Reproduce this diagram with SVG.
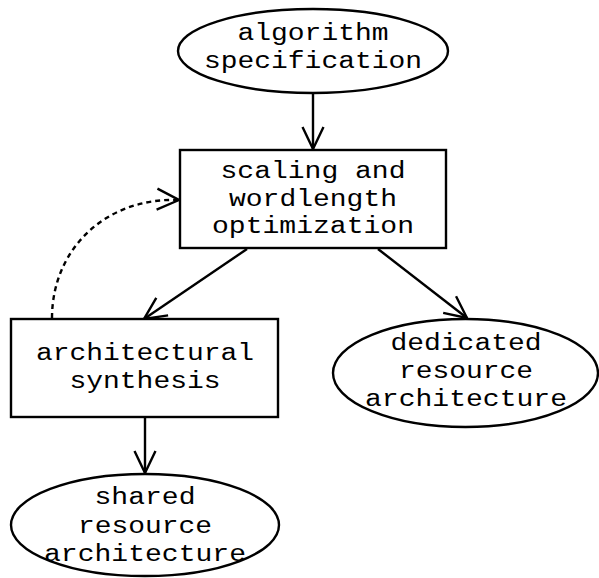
<svg xmlns="http://www.w3.org/2000/svg" width="599" height="578" viewBox="0 0 599 578">
<defs>
<marker id="arr" markerUnits="userSpaceOnUse" markerWidth="30" markerHeight="30" viewBox="-25 -15 30 30" refX="0" refY="0" orient="auto">
<path d="M-22,-10.5 L0,0 L-22,10.5" fill="none" stroke="#000" stroke-width="2.4"/>
</marker>
<style>
.n{fill:#fff;stroke:#000;stroke-width:2.4}
.t{font-family:"Liberation Mono","Courier New",monospace;font-size:23px;fill:#000;text-anchor:middle}
.e{fill:none;stroke:#000;stroke-width:2.4}
.d{fill:none;stroke:#000;stroke-width:2.4;stroke-dasharray:5,4}
</style>
</defs>
<g id="connectors">
<line class="e" x1="313" y1="93" x2="313" y2="149" marker-end="url(#arr)"/>
<line class="e" x1="247" y1="249" x2="144" y2="319" marker-end="url(#arr)"/>
<line class="e" x1="378" y1="249" x2="467" y2="318" marker-end="url(#arr)"/>
<line class="e" x1="145" y1="417" x2="145" y2="473" marker-end="url(#arr)"/>
<path class="d" d="M52,318 C52,250 105,197 179,200" marker-end="url(#arr)"/>
</g>
<g id="algorithm-specification">
<ellipse class="n" cx="313" cy="51" rx="135" ry="42"/>
<text class="t" x="313" y="40" textLength="151" lengthAdjust="spacingAndGlyphs">algorithm</text>
<text class="t" x="313" y="68" textLength="218" lengthAdjust="spacingAndGlyphs">specification</text>
</g>
<g id="scaling-wordlength">
<rect class="n" x="180" y="150" width="266" height="98"/>
<text class="t" x="313" y="178" textLength="185" lengthAdjust="spacingAndGlyphs">scaling and</text>
<text class="t" x="313" y="206" textLength="168" lengthAdjust="spacingAndGlyphs">wordlength</text>
<text class="t" x="313" y="233" textLength="202" lengthAdjust="spacingAndGlyphs">optimization</text>
</g>
<g id="architectural-synthesis">
<rect class="n" x="11" y="319" width="267" height="98"/>
<text class="t" x="145" y="360" textLength="218" lengthAdjust="spacingAndGlyphs">architectural</text>
<text class="t" x="145" y="388" textLength="151" lengthAdjust="spacingAndGlyphs">synthesis</text>
</g>
<g id="dedicated-resource">
<ellipse class="n" cx="465.5" cy="373" rx="132.5" ry="54"/>
<text class="t" x="466" y="350" textLength="151" lengthAdjust="spacingAndGlyphs">dedicated</text>
<text class="t" x="466" y="378" textLength="134" lengthAdjust="spacingAndGlyphs">resource</text>
<text class="t" x="466" y="406" textLength="202" lengthAdjust="spacingAndGlyphs">architecture</text>
</g>
<g id="shared-resource">
<ellipse class="n" cx="145" cy="525" rx="134" ry="51"/>
<text class="t" x="145" y="504" textLength="101" lengthAdjust="spacingAndGlyphs">shared</text>
<text class="t" x="145" y="533" textLength="134" lengthAdjust="spacingAndGlyphs">resource</text>
<text class="t" x="145" y="561" textLength="202" lengthAdjust="spacingAndGlyphs">architecture</text>
</g>
</svg>
